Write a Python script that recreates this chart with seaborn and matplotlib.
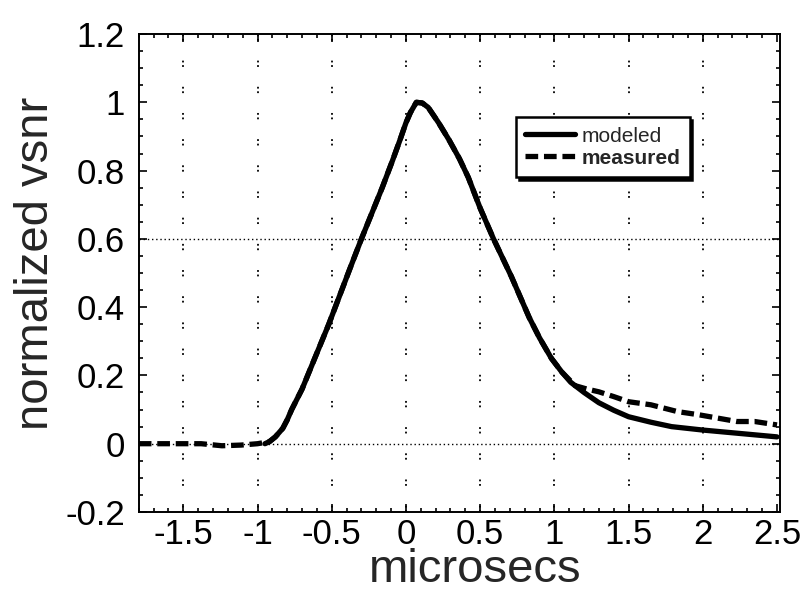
import matplotlib
matplotlib.use('Agg')
import matplotlib.pyplot as plt
from matplotlib.ticker import MultipleLocator
import pandas as pd
import seaborn as sns

# values
modeled_x = [-0.95, -0.92, -0.88, -0.83, -0.80, -0.77, -0.70, -0.52, -0.38, -0.30, -0.16, -0.09, -0.04,
             0.0, 0.03, 0.07, 0.11, 0.15, 0.22, 0.29, 0.36, 0.42, 0.50, 0.59, 0.65, 0.71, 0.77, 0.83,
             0.90, 0.98, 1.05, 1.11, 1.20, 1.30, 1.40, 1.50, 1.65, 1.79, 2.0, 2.25, 2.5]
modeled_y = [0.0, 0.006, 0.02, 0.045, 0.07, 0.10, 0.16, 0.35, 0.51, 0.60, 0.75, 0.83, 0.89,
             0.94, 0.97, 1.0, 0.998, 0.985, 0.94, 0.89, 0.835, 0.78, 0.69, 0.60, 0.545, 0.49, 0.43, 0.37,
             0.31, 0.25, 0.21, 0.18, 0.15, 0.12, 0.098, 0.079, 0.063, 0.05, 0.04, 0.03, 0.02]

measured_x = [-1.8, -1.6, -1.38, -1.24, -1.11, -1.0, -0.92, -0.88, -0.83, -0.80, -0.77, -0.70, -0.52,
              -0.38, -0.30, -0.16, -0.09, -0.04, 0.0, 0.03, 0.07, 0.11, 0.15, 0.22, 0.29, 0.36, 0.42,
              0.50, 0.59, 0.65, 0.71, 0.77, 0.83, 0.90, 0.98, 1.05, 1.14, 1.22, 1.30, 1.40, 1.50, 1.65,
              1.83, 1.97, 2.10, 2.23, 2.35, 2.5]
measured_y = [0.0, 0.0, 0.0, -0.006, -0.004, 0.0, 0.006, 0.02, 0.045, 0.07, 0.10, 0.16, 0.35,
              0.51, 0.60, 0.75, 0.83, 0.89, 0.94, 0.97, 1.0, 0.998, 0.985, 0.94, 0.89, 0.835, 0.78,
              0.69, 0.60, 0.545, 0.49, 0.43, 0.37, 0.31, 0.25, 0.21, 0.17, 0.16, 0.152, 0.138, 0.123, 0.114,
              0.094, 0.085, 0.075, 0.065, 0.065, 0.055]

x_ticks = [-1.5, -1, -0.5, 0, 0.5, 1, 1.5, 2, 2.5]
x_ticklabels = ['-1.5', '-1', '-0.5', '0', '0.5', '1', '1.5', '2', '2.5']
y_ticks = [-0.2, 0, 0.2, 0.4, 0.6, 0.8, 1, 1.2]
y_ticklabels = ['-0.2', '0', '0.2', '0.4', '0.6', '0.8', '1', '1.2']
h_lines = [0, 0.6]

df_mod = pd.DataFrame({'t': modeled_x, 'v': modeled_y})
df_meas = pd.DataFrame({'t': measured_x, 'v': measured_y})

sns.set_style('ticks')
plt.rcParams['font.family'] = ['Liberation Sans', 'DejaVu Sans']
plt.rcParams['axes.unicode_minus'] = False

fig = plt.figure(figsize=(8.07, 5.97), dpi=100)
ax = fig.add_axes([0.172, 0.1424, 0.7945, 0.8006])

# dotted grid: vertical at major x ticks, horizontal only at 0 and 0.6
for xv in x_ticks[:-1]:
    ax.axvline(xv, color='black', lw=1.3, linestyle=(0, (1, 1.5, 1, 11)), zorder=1)
for yv in h_lines:
    ax.axhline(yv, color='black', lw=1.0, linestyle=(0, (1, 2)), zorder=1)

sns.lineplot(data=df_meas, x='t', y='v', ax=ax, color='black', lw=3.8,
             label='measured', zorder=3)
ax.lines[-1].set_linestyle((0, (2.4, 1.1)))
sns.lineplot(data=df_mod, x='t', y='v', ax=ax, color='black', lw=3.8, label='modeled', zorder=4)

ax.set_xlim(-1.8, 2.52)
ax.set_ylim(-0.2, 1.2)
ax.set_xticks(x_ticks)
ax.set_xticklabels(x_ticklabels)
ax.set_yticks(y_ticks)
ax.set_yticklabels(y_ticklabels)
ax.xaxis.set_minor_locator(MultipleLocator(0.1))
ax.yaxis.set_minor_locator(MultipleLocator(0.05))
ax.tick_params(which='both', direction='in', top=True, right=True, width=1.2, colors='black')
ax.tick_params(which='major', length=6)
ax.tick_params(which='minor', length=3)
ax.tick_params(axis='x', which='major', labelsize=25, pad=4)
ax.tick_params(axis='y', which='major', labelsize=25, pad=10)
for s in ax.spines.values():
    s.set_linewidth(1.4)
    s.set_color('black')

ax.set_xlabel('microsecs', fontsize=34, labelpad=-2)
ax.set_ylabel('normalized vsnr', fontsize=34, labelpad=5)
ax.xaxis.label.set_x(0.524)
ax.yaxis.label.set_y(0.52)

h, l = ax.get_legend_handles_labels()
order = [l.index('modeled'), l.index('measured')]
leg = ax.legend([h[i] for i in order], [l[i] for i in order], loc='upper left',
                bbox_to_anchor=(0.588, 0.826), fontsize=15, frameon=True, fancybox=False,
                handlelength=2.4, handletextpad=0.3, borderpad=0.45, labelspacing=0.15,
                borderaxespad=0, shadow={'color': 'black', 'alpha': 1})
leg.get_frame().set_edgecolor('black')
leg.get_frame().set_linewidth(1.8)
leg.get_frame().set_alpha(1)
leg.get_texts()[1].set_fontweight('bold')

fig.savefig('out.png', dpi=100)
